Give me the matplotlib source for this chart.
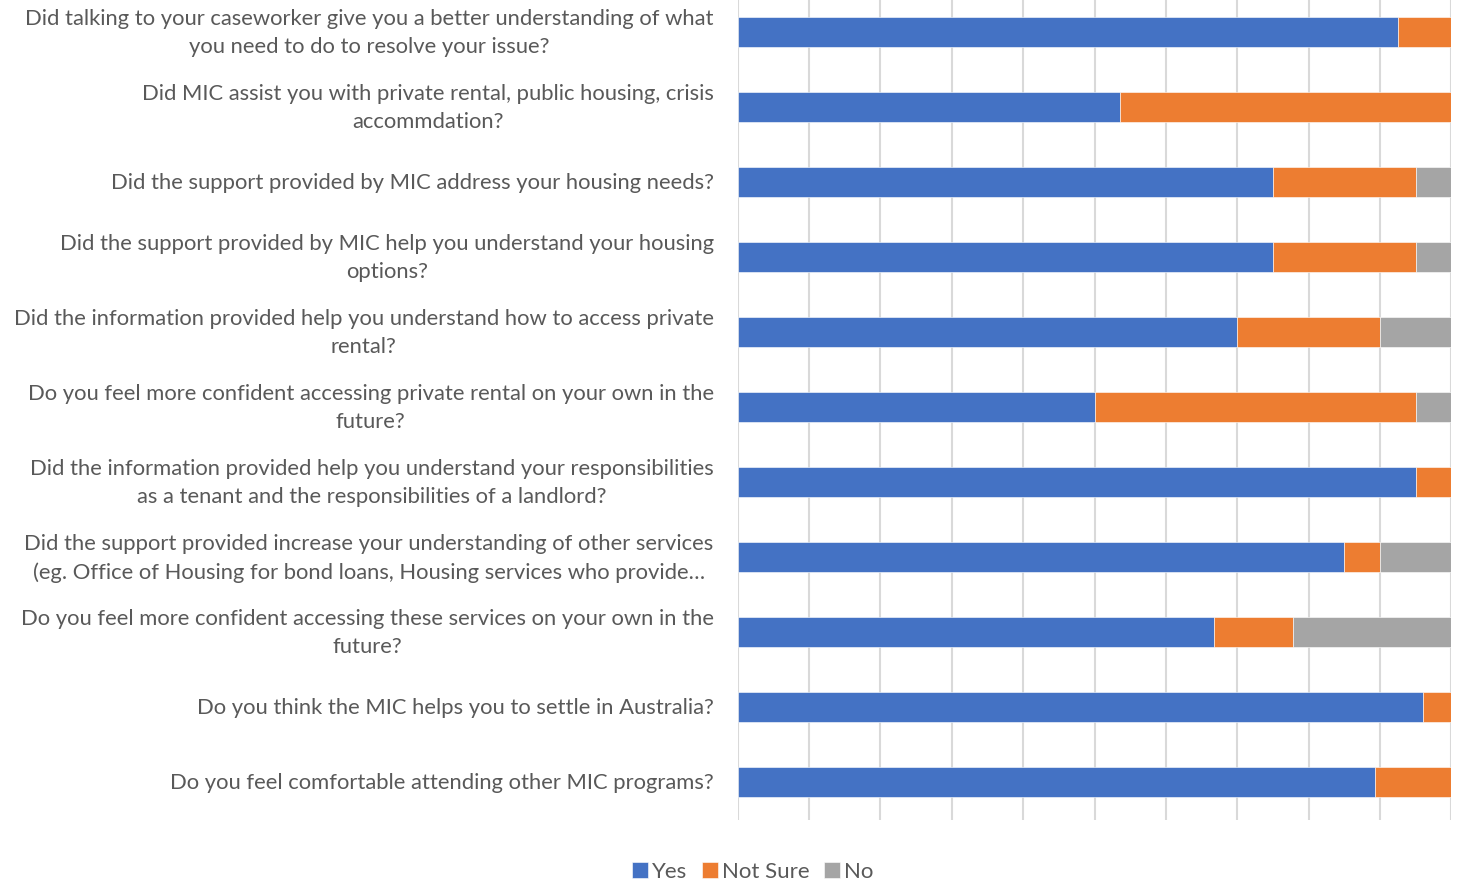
import matplotlib
matplotlib.use("Agg")
import matplotlib.pyplot as plt
import numpy as np

questions = [
    "Did talking to your caseworker give you a better understanding of what\nyou need to do to resolve your issue?",
    "Did MIC assist you with private rental, public housing, crisis\naccommdation?",
    "Did the support provided by MIC address your housing needs?",
    "Did the support provided by MIC help you understand your housing\noptions?",
    "Did the information provided help you understand how to access private\nrental?",
    "Do you feel more confident accessing private rental on your own in the\nfuture?",
    "Did the information provided help you understand your responsibilities\nas a tenant and the responsibilities of a landlord?",
    "Did the support provided increase your understanding of other services\n(eg. Office of Housing for bond loans, Housing services who provide\u2026",
    "Do you feel more confident accessing these services on your own in the\nfuture?",
    "Do you think the MIC helps you to settle in Australia?",
    "Do you feel comfortable attending other MIC programs?",
]

yes = [92.6, 53.6, 75.0, 75.0, 70.0, 50.0, 95.0, 85.0, 66.7, 96.1, 89.3]
not_sure = [7.4, 46.4, 20.0, 20.0, 20.0, 45.0, 5.0, 5.0, 11.1, 3.9, 10.7]
no = [0.0, 0.0, 5.0, 5.0, 10.0, 5.0, 0.0, 10.0, 22.2, 0.0, 0.0]

series = [("Yes", yes, "#4472C4"),
          ("Not Sure", not_sure, "#ED7D31"),
          ("No", no, "#A5A5A5")]

plt.rcParams["font.family"] = ["Lato", "DejaVu Sans"]
text_color = "#595959"

W, H = 1463, 884
fig = plt.figure(figsize=(W / 100, H / 100), dpi=100)
ax = fig.add_axes([737.7 / W, 1 - 820 / H, (1451.3 - 737.7) / W, (820 + 5.2) / H])

y = np.arange(len(questions))
left = np.zeros(len(questions))
for name, vals, color in series:
    vals = np.array(vals)
    ax.barh(y, vals, left=left, height=0.4, color=color, label=name,
            edgecolor="white", linewidth=0.4, zorder=3)
    left += vals

ax.set_xlim(0, 100)
ax.set_ylim(len(questions) - 0.5, -0.5)
ax.set_xticks(np.arange(0, 101, 10))
ax.set_xticklabels([])
ax.tick_params(axis="x", length=0)
ax.grid(axis="x", color="#D9D9D9", linewidth=1.5, zorder=0)
ax.set_yticks(y)
ax.set_yticklabels([])
ax.tick_params(axis="y", length=0)
for s in ax.spines.values():
    s.set_visible(False)

# Category labels: right-aligned block, each wrapped line centred
for yi, q in zip(y, questions):
    ax.annotate(q, xy=(0, yi), xycoords=("axes fraction", "data"),
                xytext=(-24, -1), textcoords="offset pixels",
                ha="right", va="center", multialignment="center",
                fontsize=15.8, color=text_color, linespacing=1.5,
                annotation_clip=False)

leg = fig.legend(loc="center", bbox_to_anchor=(753 / W, 1 - 872 / H), ncol=3,
                 frameon=False, fontsize=16, handlelength=0.7, handleheight=0.7,
                 handletextpad=0.2, columnspacing=0.65)
for t in leg.get_texts():
    t.set_color(text_color)

fig.savefig("out.png", dpi=100)
